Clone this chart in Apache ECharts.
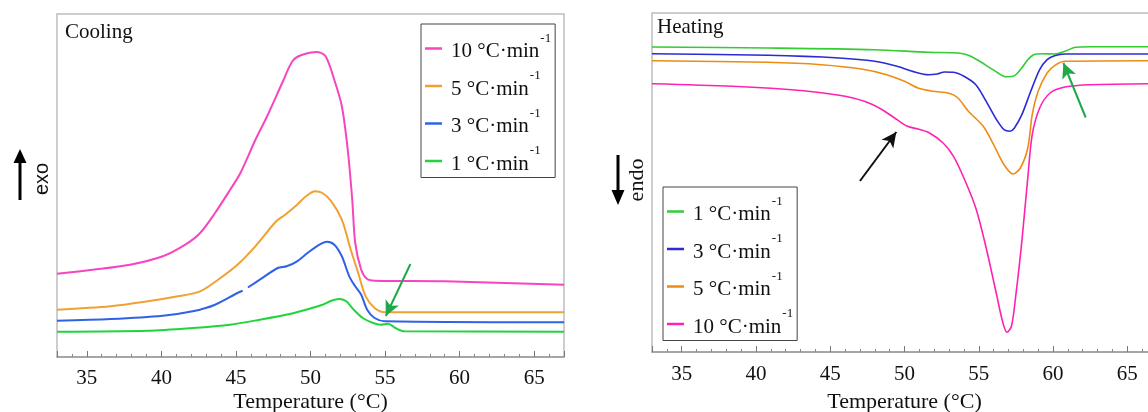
<!DOCTYPE html>
<html>
<head>
<meta charset="utf-8">
<title>DSC cooling and heating curves</title>
<script src="https://cdn.jsdelivr.net/npm/echarts@6/dist/echarts.min.js"></script>
<style>
  html, body { margin: 0; padding: 0; background: #fff; }
  #chart { width: 1148px; height: 412px; }
</style>
</head>
<body>
<div id="chart"></div>
<script>
// Temperature range shared by both panels (°C)
const tempRange = [33, 67];

// Cooling scans: [temperature °C, heat flow (a.u., exo up)]
const cool10 = [[33,8.33],[35.4,8.73],[37.9,9.23],[40.1,10.07],[41.6,11.23],[42.6,12.4],[43.6,14.4],[44.6,16.7],[45.3,18.4],[46.3,21.7],[47.1,24.1],[48.1,27.4],[48.8,29.6],[49.4,30.2],[50.4,30.5],[51.0,30.1],[51.6,27.7],[52.1,25.1],[52.5,20.7],[52.8,15.7],[53.0,11.4],[53.4,8.73],[53.8,7.8],[54.3,7.63],[59.0,7.57],[67,7.23]];
const cool5 = [[33,4.73],[36.6,5.07],[39.1,5.57],[41.1,6.07],[42.6,6.57],[43.8,7.73],[45.1,9.23],[46.3,11.07],[47.7,13.57],[48.3,14.23],[49.1,15.23],[49.7,16.07],[50.3,16.57],[50.8,16.4],[51.4,15.57],[52.1,13.73],[52.7,10.73],[53.2,8.4],[53.7,6.07],[54.3,4.9],[55.0,4.47],[56.5,4.47],[67,4.47]];
const cool3 = [[33,3.63],[36.6,3.8],[40.1,4.13],[42.1,4.57],[43.6,5.23],[45.1,6.4],[45.45,6.62],[45.6,null],[45.8,6.95],[46.6,7.73],[47.8,8.9],[48.4,9.07],[49.1,9.57],[49.8,10.4],[50.6,11.23],[51.1,11.53],[51.6,11.23],[52.1,10.07],[52.6,8.07],[53.0,7.07],[53.4,6.23],[53.8,4.73],[54.3,3.9],[55.0,3.57],[67,3.47]];
const cool1 = [[33,2.53],[39.1,2.63],[42.1,2.9],[44.6,3.23],[46.6,3.73],[48.6,4.3],[50.1,4.9],[50.8,5.23],[51.4,5.63],[51.9,5.8],[52.4,5.57],[52.9,4.73],[53.5,3.9],[54.2,3.4],[54.7,3.23],[55.2,3.33],[55.7,2.9],[56.3,2.57],[67,2.53]];

// Heating scans: [temperature °C, heat flow (a.u., endo down)]
const heat1 = [[33,30.5],[40.8,30.4],[48.0,30.23],[51.6,29.97],[53.6,29.9],[54.3,29.67],[55.0,29.13],[55.7,28.47],[56.3,27.9],[56.8,27.53],[57.3,27.57],[57.8,28.23],[58.3,29.23],[58.7,29.73],[59.3,29.83],[60.1,29.8],[60.8,30.07],[61.5,30.47],[62.5,30.53],[67,30.53]];
const heat3 = [[33,29.83],[40.8,29.67],[45.6,29.4],[48.0,29.07],[49.5,28.57],[50.7,28.0],[51.6,27.73],[52.2,27.8],[52.7,28.0],[53.3,27.97],[54.0,27.57],[54.8,26.73],[55.5,25.07],[56.2,23.23],[56.7,22.23],[57.1,22.07],[57.4,22.4],[57.9,23.73],[58.5,26.07],[59.1,28.23],[59.6,29.23],[60.1,29.63],[60.8,29.8],[67,29.8]];
const heat5 = [[33,29.13],[40.8,28.97],[44.4,28.73],[47.1,28.3],[48.8,27.73],[50.0,27.07],[50.9,26.4],[51.9,26.07],[53.0,25.87],[53.6,25.4],[54.3,24.07],[55.3,22.57],[56.0,20.73],[56.7,18.73],[57.3,17.8],[57.8,18.4],[58.3,20.4],[58.6,23.73],[59.0,26.07],[59.6,27.9],[60.2,28.73],[60.8,29.07],[67,29.13]];
const heat10 = [[33,26.83],[38.4,26.57],[43.2,26.13],[45.6,25.67],[47.3,25.07],[48.5,24.23],[49.5,23.23],[50.2,22.57],[50.9,22.3],[51.6,21.97],[52.6,20.9],[53.3,19.57],[54.0,17.4],[54.8,14.4],[55.5,10.4],[56.2,5.73],[56.6,3.07],[56.9,1.97],[57.2,2.57],[57.5,5.73],[57.9,11.07],[58.3,17.4],[58.6,21.73],[59.1,24.4],[59.8,25.9],[60.8,26.5],[62.5,26.73],[67,26.83]];

// Rate labels, in legend order per panel
const coolOrder = ['10 °C·min', '5 °C·min', '3 °C·min', '1 °C·min'];
const heatOrder = ['1 °C·min', '3 °C·min', '5 °C·min', '10 °C·min'];

// Annotation arrows: [tail, head] in data coordinates
const coolArrow = [[56.7, 9.3], [55.05, 4.1]];
const heatArrowBlack = [[47.0, 17.1], [49.45, 22.0]];
const heatArrowGreen = [[62.2, 23.45], [60.7, 28.9]];

const coolColors = { '10 °C·min': '#f546c0', '5 °C·min': '#f0a133', '3 °C·min': '#3062e6', '1 °C·min': '#22d43c' };
const heatColors = { '1 °C·min': '#33cc33', '3 °C·min': '#2b2bd6', '5 °C·min': '#ee8c12', '10 °C·min': '#ff22b0' };

const serif = 'Liberation Serif';
const chart = echarts.init(document.getElementById('chart'), null, { renderer: 'canvas' });

function xAxisFor(gridIndex, gap, margin) {
  return {
    gridIndex: gridIndex,
    type: 'value',
    min: tempRange[0],
    max: tempRange[1],
    splitNumber: 7,
    name: 'Temperature (°C)',
    nameLocation: 'middle',
    nameGap: gap,
    nameMoveOverlap: false,
    nameTextStyle: { fontFamily: serif, fontSize: 22, color: '#111' },
    axisLine: { show: true, lineStyle: { color: '#999', width: 1.5 } },
    axisTick: { show: true, inside: true, length: 6, lineStyle: { color: '#777', width: 1 } },
    minorTick: { show: true, splitNumber: 5, length: 3, lineStyle: { color: '#888', width: 1 } },
    axisLabel: { fontFamily: serif, fontSize: 21, color: '#111', margin: margin, showMinLabel: false, showMaxLabel: false },
    splitLine: { show: false },
    minorSplitLine: { show: false }
  };
}

function yAxisFor(gridIndex, max) {
  return {
    gridIndex: gridIndex, type: 'value', min: 0, max: max,
    axisLine: { show: false }, axisTick: { show: false }, axisLabel: { show: false }, splitLine: { show: false }
  };
}

function arrowLine(pair, color) {
  return {
    silent: true,
    symbol: ['none', 'arrow'],
    symbolSize: [11, 15],
    label: { show: false },
    lineStyle: { color: color, width: 2, type: 'solid' },
    emphasis: { disabled: true },
    data: [[{ coord: pair[0] }, { coord: pair[1] }]]
  };
}

function lineSeries(name, data, color, gridIndex, width, extra) {
  return Object.assign({
    name: name,
    type: 'line',
    xAxisIndex: gridIndex,
    yAxisIndex: gridIndex,
    data: data,
    showSymbol: false,
    symbol: 'none',
    smooth: 0.3,
    connectNulls: false,
    lineStyle: { color: color, width: width },
    itemStyle: { color: color },
    emphasis: { disabled: true }
  }, extra || {});
}

// Rate label with a raised "-1" exponent
const legendText = {
  a: { fontFamily: serif, fontSize: 21, color: '#111', lineHeight: 22, padding: [8, 0, 2, 4] },
  s: { fontFamily: serif, fontSize: 13, color: '#111', lineHeight: 12, padding: [0, 0, 20, 1] }
};

function legendFor(order, colors, left, top) {
  return {
    orient: 'vertical',
    left: left,
    top: top,
    padding: [8, 4, 0, 4],
    itemGap: 4.5,
    itemWidth: 17,
    itemHeight: 2.5,
    icon: 'rect',
    borderColor: '#444',
    borderWidth: 1,
    backgroundColor: '#fff',
    selectedMode: false,
    data: order.map(n => ({ name: n, itemStyle: { color: colors[n] } })),
    formatter: n => '{a|' + n + '}{s|-1}',
    textStyle: { rich: legendText }
  };
}

const titleStyle = { fontFamily: serif, fontSize: 21, fontWeight: 'normal', color: '#111' };

const option = {
  animation: false,
  backgroundColor: '#fff',
  title: [
    { text: 'Cooling', left: 65, top: 22, padding: 0, textStyle: titleStyle },
    { text: 'Heating', left: 657, top: 17, padding: 0, textStyle: titleStyle }
  ],
  grid: [
    { left: 57, top: 14, width: 507, height: 343, outerBoundsMode: 'none', show: true, borderColor: '#bdbdbd', borderWidth: 1.5, backgroundColor: 'transparent' },
    { left: 652, top: 13, width: 505, height: 339, outerBoundsMode: 'none', show: true, borderColor: '#bdbdbd', borderWidth: 1.5, backgroundColor: 'transparent' }
  ],
  xAxis: [xAxisFor(0, 34, 11), xAxisFor(1, 39, 12)],
  yAxis: [yAxisFor(0, 34.3), yAxisFor(1, 33.9)],
  legend: [
    legendFor(coolOrder, coolColors, 421, 24),
    legendFor(heatOrder, heatColors, 663, 187)
  ],
  series: [
    lineSeries('10 °C·min', cool10, coolColors['10 °C·min'], 0, 2),
    lineSeries('5 °C·min', cool5, coolColors['5 °C·min'], 0, 2),
    lineSeries('3 °C·min', cool3, coolColors['3 °C·min'], 0, 2),
    lineSeries('1 °C·min', cool1, coolColors['1 °C·min'], 0, 2, { markLine: arrowLine(coolArrow, '#1fa84a') }),
    lineSeries('1 °C·min', heat1, heatColors['1 °C·min'], 1, 1.6, { markLine: arrowLine(heatArrowGreen, '#1fa84a') }),
    lineSeries('3 °C·min', heat3, heatColors['3 °C·min'], 1, 1.6),
    lineSeries('5 °C·min', heat5, heatColors['5 °C·min'], 1, 1.6),
    lineSeries('10 °C·min', heat10, heatColors['10 °C·min'], 1, 1.6, { markLine: arrowLine(heatArrowBlack, '#111') })
  ],
  graphic: [
    // exo arrow (up) beside the cooling panel
    { type: 'line', shape: { x1: 20, y1: 200, x2: 20, y2: 160 }, style: { stroke: '#000', lineWidth: 3 } },
    { type: 'polygon', shape: { points: [[13.5, 163], [26.5, 163], [20, 149]] }, style: { fill: '#000' } },
    { type: 'text', x: 42, y: 179, rotation: Math.PI / 2,
      style: { text: 'exo', font: '20px "Liberation Sans", sans-serif', fill: '#111', textAlign: 'center', textVerticalAlign: 'middle' } },
    // endo arrow (down) beside the heating panel
    { type: 'line', shape: { x1: 618, y1: 155, x2: 618, y2: 193 }, style: { stroke: '#000', lineWidth: 3 } },
    { type: 'polygon', shape: { points: [[611.5, 190], [624.5, 190], [618, 205]] }, style: { fill: '#000' } },
    { type: 'text', x: 637, y: 180, rotation: Math.PI / 2,
      style: { text: 'endo', font: '22px "Liberation Serif", serif', fill: '#111', textAlign: 'center', textVerticalAlign: 'middle' } }
  ]
};

chart.setOption(option);
</script>
</body>
</html>
